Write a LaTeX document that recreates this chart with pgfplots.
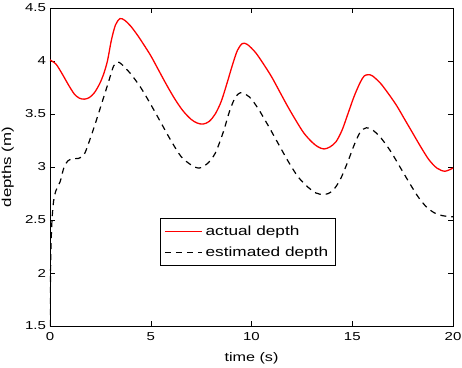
\documentclass[border=0pt]{standalone}
\usepackage{fontspec}
\setmainfont[FakeStretch=1.3]{Liberation Sans}
\usepackage{pgfplots}
\pgfplotsset{compat=1.18}
\begin{document}
\fontsize{11.6}{13}\selectfont
\begin{tikzpicture}
\begin{axis}[
  scale only axis,
  width=403bp, height=318bp,
  xmin=0, xmax=20, ymin=1.5, ymax=4.5,
  xtick={0,5,10,15,20},
  ytick={1.5,2,2.5,3,3.5,4,4.5},
  yticklabels={1.5,2,2.5,3,3.5,4,4.5},
  xticklabels={0,5,10,15,20},
  tick align=inside,
  major tick length=5bp,
  tick style={black, line width=0.5pt},
  axis line style={black, line width=0.6pt},
  xlabel={time (s)},
  ylabel={depths (m)},
  every axis x label/.style={at={(axis description cs:0.5,-0.1)}, anchor=center, font=\fontsize{12.5}{14}\selectfont},
  every axis y label/.style={at={(axis description cs:-0.105,0.5)}, rotate=90, anchor=center, font=\fontsize{13}{14}\selectfont},
  ticklabel style={font=\fontsize{11.6}{13}\selectfont},
  xticklabel style={yshift=-2bp},
  /pgf/number format/assume math mode=true,
  legend style={at={(0.273,0.19)}, anchor=south west, draw=black, line width=0.6pt,
    font=\fontsize{13.3}{15}\selectfont, inner xsep=4bp, inner ysep=5bp, row sep=6bp,
    nodes={inner xsep=3bp}},
  legend cell align=left,
  legend image code/.code={\draw[#1] (0bp,0bp) -- (37bp,0bp);},
  legend image post style={line width=1.3bp},
]
\addplot[red, line width=1.3bp, smooth] coordinates {
(0,4.01) (0.3,3.97) (0.6,3.88) (0.9,3.78) (1.2,3.69) (1.45,3.65) (1.7,3.64)
(1.95,3.655) (2.2,3.70) (2.45,3.78) (2.65,3.87) (2.85,4.00) (3.05,4.20) (3.25,4.34)
(3.47,4.40) (3.7,4.385) (4.0,4.33) (4.3,4.255) (4.6,4.17) (5.0,4.05) (5.4,3.91) (5.8,3.77)
(6.2,3.64) (6.6,3.53) (7.0,3.45) (7.3,3.415) (7.6,3.405) (7.9,3.43) (8.2,3.50)
(8.5,3.62) (8.8,3.80) (9.05,3.96) (9.3,4.10) (9.55,4.165) (9.8,4.155) (10.2,4.08)
(10.6,3.97) (11.0,3.85) (11.4,3.71) (11.8,3.57) (12.2,3.44) (12.6,3.32) (13.0,3.235)
(13.3,3.19) (13.6,3.17) (13.9,3.19) (14.2,3.24) (14.5,3.35) (14.8,3.51) (15.1,3.67)
(15.4,3.80) (15.6,3.86) (15.8,3.87) (16.0,3.86) (16.4,3.79) (16.8,3.69) (17.2,3.58)
(17.6,3.45) (18.0,3.32) (18.4,3.19) (18.8,3.07) (19.2,2.99) (19.6,2.96) (20.0,2.99)
};
\addlegendentry{actual depth}
\addplot[black, line width=1.2bp, dash pattern=on 6bp off 5bp, smooth] coordinates {
(0,1.5) (0.02,1.9) (0.05,2.25) (0.1,2.5) (0.18,2.68) (0.3,2.78) (0.5,2.86)
(0.7,3.00) (0.9,3.06) (1.1,3.08) (1.4,3.08) (1.7,3.12) (2.0,3.27) (2.3,3.44)
(2.6,3.62) (2.9,3.80) (3.15,3.95) (3.35,3.99) (3.55,3.97) (4.0,3.88) (4.5,3.75)
(5.0,3.59) (5.5,3.42) (6.0,3.25) (6.5,3.10) (7.0,3.02) (7.4,2.99) (7.8,3.03)
(8.2,3.13) (8.6,3.33) (8.9,3.52) (9.15,3.64) (9.35,3.69) (9.55,3.70) (9.9,3.66)
(10.3,3.56) (10.8,3.40) (11.3,3.23) (11.8,3.06) (12.3,2.91) (12.8,2.81) (13.2,2.755)
(13.6,2.74) (14.0,2.77) (14.4,2.88) (14.8,3.06) (15.1,3.21) (15.4,3.33) (15.7,3.37)
(16.0,3.35) (16.4,3.28) (16.9,3.15) (17.4,2.99) (17.9,2.83) (18.3,2.71) (18.7,2.62)
(19.1,2.565) (19.5,2.54) (20.0,2.53)
};
\addlegendentry{estimated depth}
\coordinate (sw) at (rel axis cs:0,0);
\coordinate (ne) at (rel axis cs:1,1);
\end{axis}
\pgfresetboundingbox
\path[use as bounding box] ([xshift=-50bp,yshift=-42bp]sw) rectangle ([xshift=9bp,yshift=8bp]ne);
\end{tikzpicture}
\end{document}
